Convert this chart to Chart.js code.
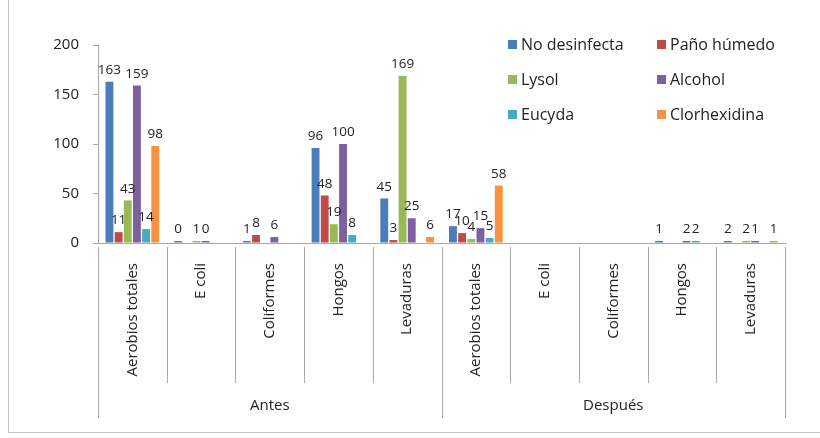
<!DOCTYPE html>
<html>
<head>
<meta charset="utf-8">
<script src="https://cdn.jsdelivr.net/npm/chart.js@4.4.0/dist/chart.umd.min.js"></script>
<style>
  html, body { margin: 0; padding: 0; background: #fff; }
  #wrap { position: relative; width: 820px; height: 438px; }
  #frame { position: absolute; left: 8px; top: 0; width: 812px; height: 433px;
           border-left: 1px solid #c4c4c4; border-bottom: 1px solid #c4c4c4; box-sizing: border-box; pointer-events: none; }
</style>
</head>
<body>
<div id="wrap">
  <canvas id="chart" width="820" height="438"></canvas>
  <div id="frame"></div>
</div>
<script>
// categories (two groups of five)
const categories = ['Aerobios totales', 'E coli', 'Coliformes', 'Hongos', 'Levaduras',
                    'Aerobios totales', 'E coli', 'Coliformes', 'Hongos', 'Levaduras'];
const groups = ['Antes', 'Después'];
const perGroup = 5;

// series values (null = no bar shown)
const noDesinfecta = [163, 0, 1, 96, 45, 17, null, null, 1, 2];
const panoHumedo   = [11, null, 8, 48, 3, 10, null, null, null, null];
const lysol        = [43, 1, null, 19, 169, 4, null, null, null, 2];
const alcohol      = [159, 0, 6, 100, 25, 15, null, null, 2, 1];
const eucyda       = [14, null, null, 8, null, 5, null, null, 2, null];
const clorhexidina = [98, null, null, null, 6, 58, null, null, null, 1];

const yTicks = [0, 50, 100, 150, 200];

const FONT = '"Open Sans", "DejaVu Sans", sans-serif';

// data labels above each bar
const valueLabels = {
  id: 'valueLabels',
  afterDatasetsDraw(chart) {
    const ctx = chart.ctx;
    ctx.save();
    ctx.font = '13.5px ' + FONT;
    ctx.fillStyle = '#222';
    ctx.textAlign = 'center';
    ctx.textBaseline = 'bottom';
    chart.data.datasets.forEach((ds, di) => {
      const meta = chart.getDatasetMeta(di);
      meta.data.forEach((bar, i) => {
        const v = ds.data[i];
        if (v === null || v === undefined) return;
        ctx.fillText(String(v), bar.x, bar.y - 5);
      });
    });
    ctx.restore();
  }
};

// category separators, group labels and legend
const decor = {
  id: 'decor',
  afterDraw(chart) {
    const { ctx, chartArea: a } = chart;
    const n = categories.length;
    const step = (a.right - a.left) / n;
    ctx.save();
    ctx.strokeStyle = '#a8a8a8';
    ctx.lineWidth = 1;
    for (let i = 0; i <= n; i++) {
      const px = Math.round(a.left + i * step) + 0.5;
      const edge = i % perGroup === 0;
      ctx.beginPath();
      ctx.moveTo(px, a.bottom + 4);
      ctx.lineTo(px, a.bottom + (edge ? 175 : 140));
      ctx.stroke();
    }
    ctx.font = '15px ' + FONT;
    ctx.fillStyle = '#222';
    ctx.textAlign = 'center';
    ctx.textBaseline = 'middle';
    groups.forEach((g, gi) => {
      const cx = a.left + (gi + 0.5) * perGroup * step;
      ctx.fillText(g, cx, a.bottom + 163);
    });

    // legend, 2 columns x 3 rows
    ctx.textAlign = 'left';
    ctx.font = '16px ' + FONT;
    chart.data.datasets.forEach((ds, di) => {
      const col = di % 2, row = Math.floor(di / 2);
      const lx = 508 + col * 149, ly = 45 + row * 35;
      ctx.fillStyle = ds.backgroundColor;
      ctx.fillRect(lx, ly - 5, 9, 9);
      ctx.fillStyle = '#222';
      ctx.fillText(ds.label, lx + 13, ly);
    });
    ctx.restore();
  }
};

new Chart(document.getElementById('chart'), {
  type: 'bar',
  data: {
    labels: categories,
    datasets: [
      { label: 'No desinfecta', data: noDesinfecta, backgroundColor: '#4a7ebb' },
      { label: 'Paño húmedo', data: panoHumedo, backgroundColor: '#be4b48' },
      { label: 'Lysol', data: lysol, backgroundColor: '#98b954' },
      { label: 'Alcohol', data: alcohol, backgroundColor: '#7d60a0' },
      { label: 'Eucyda', data: eucyda, backgroundColor: '#46aac5' },
      { label: 'Clorhexidina', data: clorhexidina, backgroundColor: '#f69240' }
    ]
  },
  options: {
    responsive: false,
    animation: false,
    events: [],
    layout: { padding: { top: 45, right: 35, bottom: 55, left: 38 } },
    datasets: { bar: { categoryPercentage: 0.8, barPercentage: 0.86, minBarLength: 2 } },
    plugins: { legend: { display: false }, tooltip: { enabled: false } },
    scales: {
      x: {
        grid: { display: false },
        border: { display: true, color: '#a8a8a8' },
        ticks: { minRotation: 90, maxRotation: 90, autoSkip: false, padding: 12,
                 color: '#222', font: { family: FONT, size: 15 } },
        afterFit(s) { s.height = 140; }
      },
      y: {
        min: 0, max: 200,
        afterBuildTicks(s) { s.ticks = yTicks.map(v => ({ value: v })); },
        grid: { drawOnChartArea: false, drawTicks: true, tickLength: 5, color: '#a8a8a8' },
        border: { display: true, color: '#a8a8a8' },
        ticks: { padding: 14, color: '#222', font: { family: FONT, size: 15 } },
        afterFit(s) { s.width = 60; }
      }
    }
  },
  plugins: [valueLabels, decor]
});
</script>
</body>
</html>
